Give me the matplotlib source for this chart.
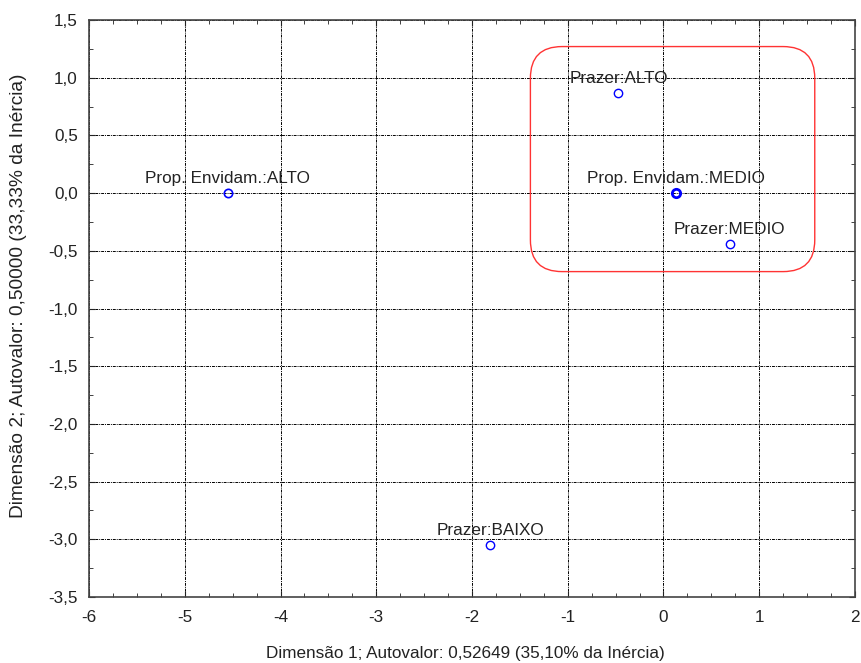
import numpy as np
import matplotlib
matplotlib.use("Agg")
import matplotlib.pyplot as plt
from matplotlib.patches import FancyBboxPatch
from matplotlib.ticker import MultipleLocator, FuncFormatter

plt.rcParams['font.family'] = ['Liberation Sans', 'DejaVu Sans']

labels = ['Prop. Envidam.:ALTO', 'Prazer:ALTO', 'Prop. Envidam.:MEDIO',
          'Prazer:MEDIO', 'Prazer:BAIXO']
dim1 = [-4.55, -0.47, 0.13, 0.69, -1.81]
dim2 = [0.00, 0.87, 0.00, -0.44, -3.05]
# the MEDIO point is drawn with a heavier edge (overlapping points)
edge_w = [1.2, 1.0, 2.0, 1.0, 1.0]

xlabel = 'Dimensão 1; Autovalor: 0,52649 (35,10% da Inércia)'
ylabel = 'Dimensão 2; Autovalor: 0,50000 (33,33% da Inércia)'

fs = 12.3

fig = plt.figure(figsize=(8.61, 6.63), dpi=100)
ax = fig.add_axes([0.1034, 0.0995, 0.8896, 0.8703])

for x, y, lab, lw in zip(dim1, dim2, labels, edge_w):
    ax.plot(x, y, 'o', mfc='none', mec='#0000ff', ms=6, mew=lw, zorder=3)
    ax.annotate(lab, (x, y), xytext=(0, 5), textcoords='offset points',
                ha='center', va='bottom', fontsize=fs, color='#222222')

# highlight box around the right-hand group
box = FancyBboxPatch((-1.39, -0.68), 2.97, 1.95,
                     boxstyle='round,pad=0,rounding_size=0.33',
                     mutation_aspect=0.83, fill=False, ec='#ff3333', lw=1.0, zorder=2)
ax.add_patch(box)

ax.set_xlim(-6, 2)
ax.set_ylim(-3.5, 1.5)
ax.xaxis.set_major_locator(MultipleLocator(1))
ax.xaxis.set_minor_locator(MultipleLocator(0.25))
ax.yaxis.set_major_locator(MultipleLocator(0.5))
ax.yaxis.set_minor_locator(MultipleLocator(0.25))
ax.yaxis.set_major_formatter(FuncFormatter(lambda v, p: f'{v:.1f}'.replace('.', ',')))
ax.xaxis.set_major_formatter(FuncFormatter(lambda v, p: f'{v:.0f}'))
ax.tick_params(which='both', direction='in', top=True, right=True, labelsize=fs,
               colors='#222222')
ax.tick_params(which='major', length=4)
ax.tick_params(axis='x', which='major', pad=9.5)
ax.tick_params(axis='y', which='major', pad=8)
ax.tick_params(which='minor', length=3)
ax.grid(True, which='major', color='black', linestyle=(0, (3, 1, 1, 1)), linewidth=0.7)
for s in ax.spines.values():
    s.set_color('#444444')
    s.set_linewidth(1.2)

ax.set_xlabel(xlabel, fontsize=fs, color='#222222')
ax.set_ylabel(ylabel, fontsize=13.8, color='#222222')
ax.xaxis.set_label_coords(0.491, -0.085)
ax.yaxis.set_label_coords(-0.081, 0.522)

fig.savefig('out.png', dpi=100)
